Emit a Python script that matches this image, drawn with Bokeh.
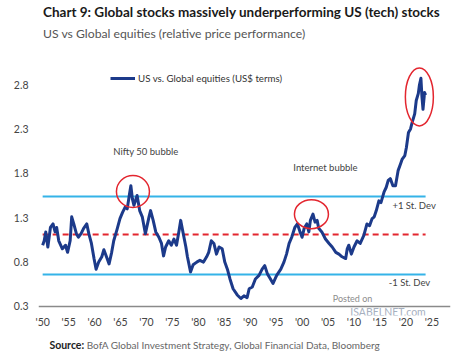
from bokeh.plotting import figure
from bokeh.models import Label, Legend, LegendItem, FixedTicker, Span
from bokeh.layouts import column
from bokeh.embed import file_html
from bokeh.resources import INLINE

# ---------------- data ----------------
years = [1950.0, 1950.3, 1950.6, 1951.0, 1951.5, 1952.0, 1952.4, 1952.7, 1953.1, 1953.8,
         1954.4, 1954.8, 1955.3, 1955.6, 1956.0, 1956.5, 1956.9, 1957.4, 1957.9, 1958.5,
         1958.9, 1959.4, 1959.9, 1960.3, 1960.8, 1961.4, 1961.8, 1962.3, 1962.8, 1963.3,
         1963.7, 1964.3, 1964.9, 1965.4, 1965.9, 1966.3, 1966.8, 1967.0, 1967.3, 1967.6,
         1968.2, 1968.7, 1969.2, 1969.8, 1970.5, 1970.8, 1971.3, 1971.8, 1972.4, 1972.9,
         1973.3, 1973.7, 1974.3, 1974.8, 1975.3, 1975.8, 1976.3, 1976.6, 1977.1, 1977.6,
         1977.9, 1978.5, 1979.0, 1979.7, 1980.3, 1981.0, 1981.6, 1982.0, 1982.5, 1983.0,
         1983.5, 1984.0, 1984.6, 1985.1, 1985.6, 1986.1, 1986.7, 1987.5, 1988.2, 1988.8,
         1989.4, 1989.8, 1990.4, 1991.0, 1991.7, 1992.3, 1992.8, 1993.3, 1993.9, 1994.4,
         1995.1, 1995.9, 1996.5, 1997.0, 1997.5, 1998.0, 1998.6, 1999.1, 1999.6, 2000.0,
         2000.4, 2000.9, 2001.3, 2001.6, 2002.1, 2002.5, 2002.9, 2003.2, 2003.8, 2004.5,
         2005.2, 2005.8, 2006.5, 2007.1, 2007.7, 2008.4, 2008.7, 2009.0, 2009.5, 2010.0,
         2010.6, 2011.2, 2011.9, 2012.5, 2013.0, 2013.5, 2013.9, 2014.3, 2014.8, 2015.2,
         2015.8, 2016.2, 2016.6, 2017.0, 2017.5, 2018.0, 2018.5, 2019.0, 2019.3, 2019.8,
         2020.1, 2020.5, 2020.9, 2021.2, 2021.7, 2022.0, 2022.4, 2022.6, 2022.9, 2023.1,
         2023.3, 2023.6, 2023.8]
ratio = [0.99, 1.04, 1.14, 0.97, 1.19, 1.23, 1.14, 1.19, 1.04, 0.95,
         0.99, 0.91, 1.04, 1.31, 1.23, 1.12, 1.08, 1.12, 1.18, 1.23,
         1.12, 1.01, 0.84, 0.72, 0.80, 0.86, 0.94, 0.86, 0.78, 0.91,
         1.04, 1.16, 1.29, 1.36, 1.42, 1.40, 1.59, 1.66, 1.51, 1.44,
         1.55, 1.38, 1.31, 1.12, 1.31, 1.38, 1.27, 1.14, 1.08, 1.01,
         0.87, 0.97, 1.04, 0.99, 1.06, 0.99, 1.16, 1.27, 1.12, 0.97,
         0.86, 0.69, 0.77, 0.80, 0.82, 0.80, 0.86, 0.91, 1.04, 1.01,
         0.89, 0.97, 0.95, 0.80, 0.72, 0.61, 0.50, 0.43, 0.39, 0.42,
         0.40, 0.50, 0.52, 0.61, 0.65, 0.72, 0.76, 0.67, 0.61, 0.56,
         0.65, 0.72, 0.80, 0.89, 1.01, 1.08, 1.19, 1.23, 1.14, 1.08,
         1.18, 1.23, 1.14, 1.27, 1.34, 1.25, 1.27, 1.18, 1.14, 1.06,
         1.01, 0.97, 0.91, 0.89, 0.86, 0.84, 0.95, 0.99, 0.89, 0.97,
         1.04, 1.01, 1.10, 1.23, 1.21, 1.29, 1.31, 1.38, 1.49, 1.47,
         1.59, 1.64, 1.72, 1.74, 1.66, 1.66, 1.83, 1.91, 1.96, 2.00,
         2.09, 2.26, 2.30, 2.37, 2.47, 2.62, 2.70, 2.79, 2.87, 2.66,
         2.52, 2.71, 2.68]

mean_level = 1.11
plus_sd = 1.54
minus_sd = 0.66
axis_base = 0.3

x_ticks = [1950, 1955, 1960, 1965, 1970, 1975, 1980, 1985, 1990, 1995, 2000, 2005, 2010, 2015, 2020, 2025]
x_tick_labels = ["'50", "'55", "'60", "'65", "'70", "'75", "'80", "'85", "'90", "'95",
                 "'00", "'05", "'10", "'15", "'20", "'25"]
y_ticks = [0.3, 0.8, 1.3, 1.8, 2.3, 2.8]
y_tick_labels = ["0.3", "0.8", "1.3", "1.8", "2.3", "2.8"]

# highlighted episodes (year, value) for circles
circle_x = [1967.4, 2001.8, 2022.6]
circle_y = [1.595, 1.34, 2.66]

title_text = "Chart 9: Global stocks massively underperforming US (tech) stocks"
subtitle_text = "US vs Global equities (relative price performance)"
legend_text = "US vs. Global equities (US$ terms)"
source_bold = "Source:"
source_rest = "BofA Global Investment Strategy, Global Financial Data, Bloomberg"

# ---------------- styling ----------------
NAVY = "#1c3a8a"
CYAN = "#35b3e8"
RED = "#e3262f"
FONT = "Lato"
W = 453


def bare(h, xr, yr):
    f = figure(width=W, height=h, x_range=xr, y_range=yr, output_backend="svg",
               toolbar_location=None, min_border=0)
    f.axis.visible = False
    f.grid.visible = False
    f.outline_line_color = None
    f.background_fill_color = "white"
    f.border_fill_color = "white"
    return f


# ---------- header ----------
head = bare(46, (0, W), (0, 46))
head.add_layout(Label(x=5, y=35, text=title_text, text_font=FONT, text_font_size="13.5px",
                      text_font_style="bold", text_color="#1a1a1a", text_baseline="middle"))
head.add_layout(Label(x=5, y=13, text=subtitle_text, text_font=FONT, text_font_size="12.2px",
                      text_color="#555555", text_baseline="middle"))

# ---------- main chart ----------
p = figure(width=W, height=287, x_range=(1949.2, 2028.6), y_range=(0.1986, 3.228),
           output_backend="svg", toolbar_location=None,
           min_border_left=38, min_border_right=3, min_border_top=0, min_border_bottom=18)
p.outline_line_color = None
p.xgrid.visible = False
p.ygrid.visible = False
p.background_fill_color = "white"
p.border_fill_color = "white"

p.xaxis.ticker = FixedTicker(ticks=x_ticks)
p.xaxis.major_label_overrides = dict(zip(x_ticks, x_tick_labels))
p.xaxis.axis_line_color = None
p.xaxis.major_tick_line_color = None
p.xaxis.major_tick_out = 0
p.xaxis.major_tick_in = 0
p.xaxis.minor_tick_line_color = None
p.xaxis.major_label_standoff = 0
p.xaxis.major_label_text_font = FONT
p.xaxis.major_label_text_font_size = "10.5px"
p.xaxis.major_label_text_color = "#444444"

p.yaxis.ticker = FixedTicker(ticks=y_ticks)
p.yaxis.major_label_overrides = dict(zip(y_ticks, y_tick_labels))
p.yaxis.axis_line_color = None
p.yaxis.major_tick_line_color = None
p.yaxis.major_tick_out = 0
p.yaxis.major_tick_in = 0
p.yaxis.minor_tick_line_color = None
p.yaxis.major_label_standoff = 10
p.yaxis.major_label_text_font = FONT
p.yaxis.major_label_text_font_size = "10.5px"
p.yaxis.major_label_text_color = "#444444"

# baseline (axis line at 0.3)
p.add_layout(Span(location=axis_base, dimension="width", line_color="#8a8a8a", line_width=1.5))

# reference lines across the sample
x0, x1 = years[0], years[-1]
p.segment(x0=[x0, x0], x1=[x1, x1], y0=[plus_sd, minus_sd], y1=[plus_sd, minus_sd],
          line_color=CYAN, line_width=2)
p.segment(x0=[x0], x1=[x1], y0=[mean_level], y1=[mean_level],
          line_color=RED, line_width=2, line_dash="6 4")

# main series
r = p.line(years, ratio, line_color=NAVY, line_width=3, line_join="round")

# circles
p.ellipse(x=circle_x, y=circle_y, width=[33, 34, 28], height=[32, 29, 58],
          width_units="screen", height_units="screen",
          fill_alpha=0, line_color=RED, line_width=1.5)

# legend
legend = Legend(items=[LegendItem(label=legend_text, renderers=[r])],
                location=(72, 231), border_line_alpha=0, background_fill_alpha=0,
                padding=0, margin=0, glyph_width=25, glyph_height=12, label_standoff=3,
                label_text_font=FONT, label_text_font_size="9.7px", label_text_color="#333333",
                label_height=12)
p.add_layout(legend)


def lab(x, y, t, size="9.5px", color="#444444", align="left"):
    p.add_layout(Label(x=x, y=y, text=t, text_font=FONT, text_font_size=size,
                       text_color=color, text_align=align, text_baseline="middle"))


lab(1969.9, 2.04, "Nifty 50 bubble", align="center")
lab(2004.5, 1.87, "Internet bubble", align="center")
lab(2017.4, 1.44, "+1 St. Dev")
lab(2016.7, 0.57, "-1 St. Dev")
lab(2005.9, 0.39, "Posted on", color="#8c8c8c", size="9px")
lab(2009.3, 0.24, "ISABELNET.com", color="#a6b0bf", size="10.5px")

# ---------- footer ----------
foot = bare(18, (0, W), (0, 18))
foot.add_layout(Label(x=12, y=7, text=source_bold, text_font=FONT, text_font_size="10.5px",
                      text_font_style="bold", text_color="#222222", text_baseline="middle"))
foot.add_layout(Label(x=53, y=7, text=source_rest, text_font=FONT, text_font_size="10px",
                      text_color="#666666", text_baseline="middle"))

layout = column(head, p, foot, spacing=0)
open("out.html", "w").write(file_html(layout, INLINE))
